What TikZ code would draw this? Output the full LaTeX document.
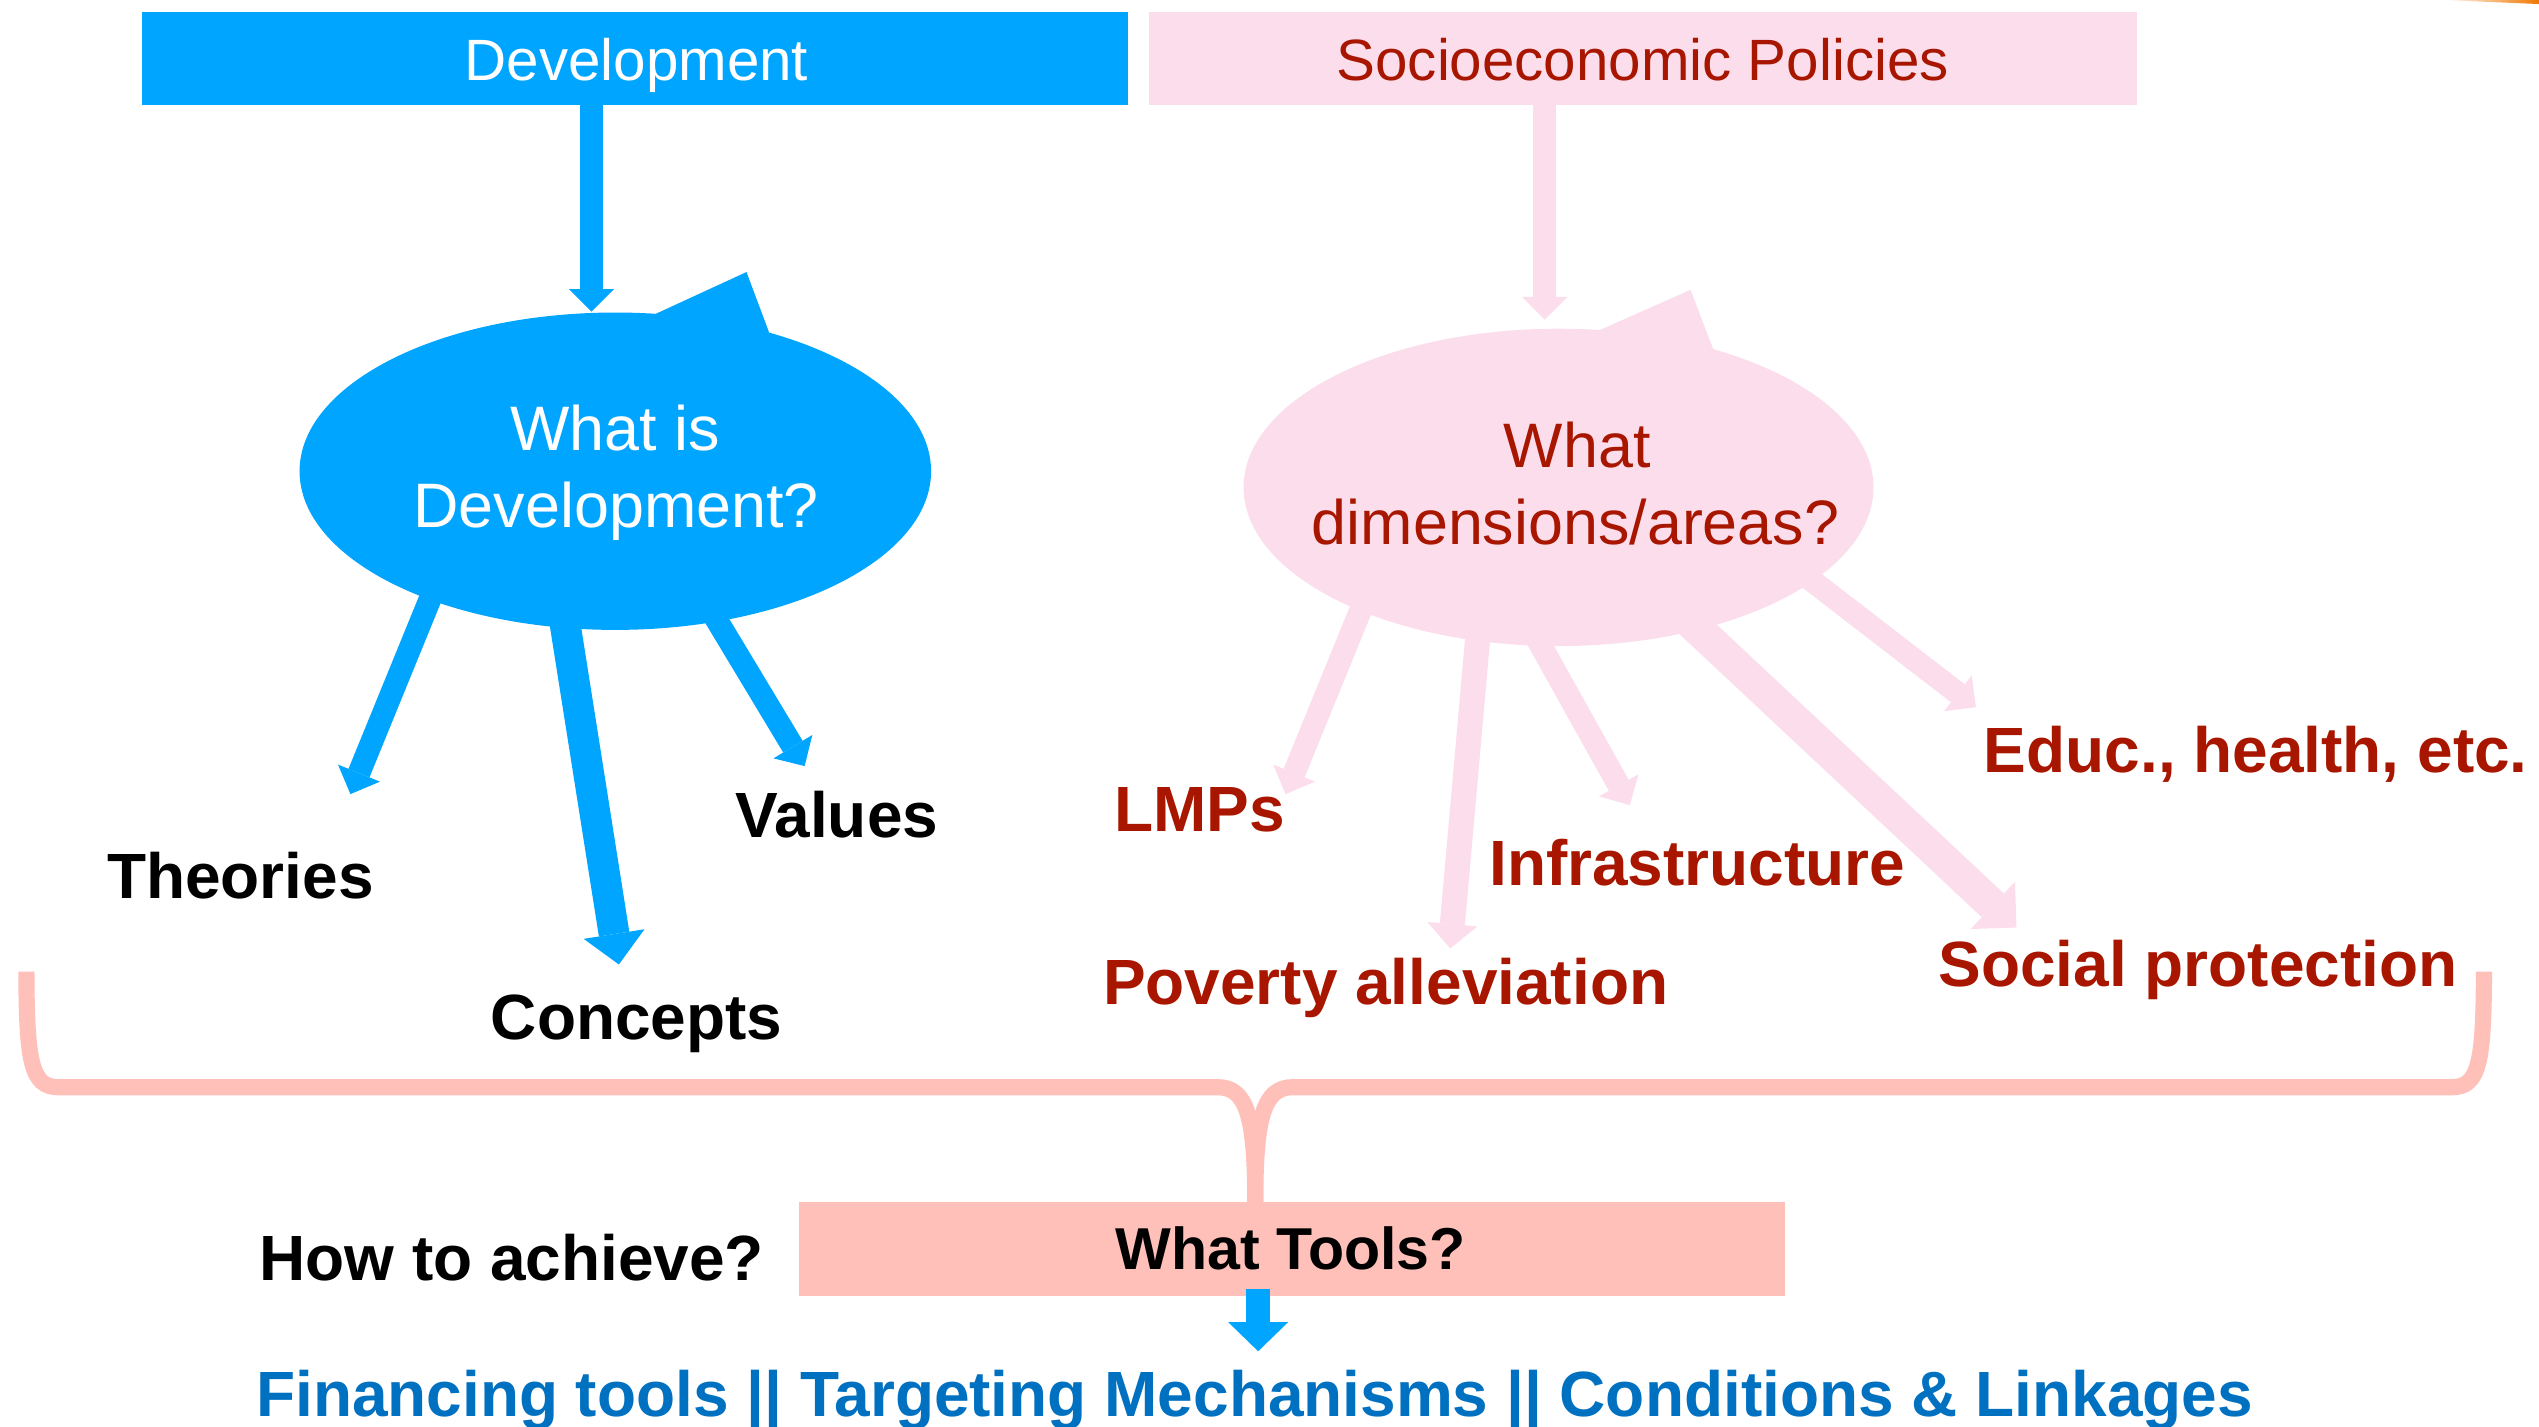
\documentclass[tikz,border=0pt]{standalone}
\usepackage{fontspec}
\setmainfont{Liberation Sans}
\usetikzlibrary{arrows.meta,shapes.geometric}
\definecolor{devblue}{RGB}{0,165,255}
\definecolor{polpink}{RGB}{251,221,235}
\definecolor{txtred}{RGB}{168,22,0}
\definecolor{salmon}{RGB}{255,192,185}
\definecolor{linkblue}{RGB}{0,112,192}
\definecolor{orng}{RGB}{240,120,0}
\begin{document}
\begin{tikzpicture}[x=1pt,y=-1pt,
  reg/.style={font=\fontsize{36}{43}\selectfont, inner sep=0pt, anchor=base},
  bubt/.style={font=\fontsize{38.8}{47}\selectfont, inner sep=0pt, anchor=base},
  lbl/.style={font=\fontsize{39.5}{47}\selectfont\bfseries, inner sep=0pt, anchor=base west},
  boxn/.style={inner sep=0pt, anchor=north west},
  bub/.style={ellipse, inner sep=0pt, minimum height=196pt},
  ar/.style={line width=14pt, -{Triangle[width=28pt,length=14pt,line width=0pt]}},
  arm/.style={line width=15.5pt, -{Triangle[width=31pt,length=15pt,line width=0pt]}},
  arw/.style={line width=19pt, -{Triangle[width=38pt,length=19pt,line width=0pt]}},
  arx/.style={line width=20pt, -{Triangle[width=40pt,length=20pt,line width=0pt]}},
  brace/.style={draw=salmon, line width=10pt, line join=round}
]
\useasboundingbox (0,0) rectangle (1568,881);

% orange corner accent
\shade[left color=white, right color=orng] (1508,0) -- (1568,0) -- (1568,2.5) -- cycle;

% top boxes
\node[boxn, fill=devblue, minimum width=609.2pt, minimum height=57.4pt] (dev) at (87.5,7.4) {};
\node[boxn, fill=polpink, minimum width=610pt, minimum height=57.4pt] (pol) at (709.5,7.4) {};
\node[reg, text=white] (devt) at (393,49.6) {Development};
\node[reg, text=txtred] (polt) at (1014.5,49.6) {Socioeconomic Policies};

% coordinates
\coordinate (devout) at (365.3,60);
\coordinate (devin) at (365.3,192.5);
\coordinate (polout) at (954,60);
\coordinate (polin) at (954,197.4);

\coordinate (sTh) at (276.8,342.5);  \coordinate (tTh) at (216.4,490.4);
\coordinate (sCo) at (344.7,358.3);  \coordinate (tCo) at (382.2,595.6);
\coordinate (sVa) at (427.8,358.3);  \coordinate (tVa) at (496.9,473.1);

\coordinate (sLM) at (851.2,350);    \coordinate (tLM) at (793.9,490.4);
\coordinate (sPo) at (915,366.6);    \coordinate (tPo) at (895.6,585.7);
\coordinate (sIn) at (937.3,373.2);  \coordinate (tIn) at (1006.5,497.2);
\coordinate (sEd) at (1096.4,341.2); \coordinate (tEd) at (1220.2,436.7);
\coordinate (sSo) at (1033.9,374.8); \coordinate (tSo) at (1245.3,572.8);

% arrows from boxes to bubbles
\draw[ar, devblue] (devout) -- (devin);
\draw[ar, polpink] (polout) -- (polin);

% arrows out of bubbles
\draw[ar, devblue] (sTh) -- (tTh);
\draw[arw, devblue] (sCo) -- (tCo);
\draw[ar, devblue] (sVa) -- (tVa);

\draw[ar, polpink] (sLM) -- (tLM);
\draw[arm, polpink] (sPo) -- (tPo);
\draw[ar, polpink] (sIn) -- (tIn);
\draw[ar, polpink] (sEd) -- (tEd);
\draw[arx, polpink] (sSo) -- (tSo);

% bubbles
\node[bub, fill=devblue, minimum width=390pt] (wid) at (380,291) {};
\fill[devblue] (405,193.8) -- (461,168) -- (475,205.4) -- (440,215) -- cycle;
\node[bub, fill=polpink, minimum width=389pt] (wda) at (962.5,301) {};
\fill[polpink] (988,203.8) -- (1044,179) -- (1058,215.6) -- (1020,225) -- cycle;

\node[bubt, text=white] (wid1) at (380,278.5) {What is};
\node[bubt, text=white] (wid2) at (380.5,326) {Development?};
\node[bubt, text=txtred] (wda1) at (974,289) {What};
\node[bubt, text=txtred] (wda2) at (973,336.4) {dimensions/areas?};

% labels
\node[lbl] (theo) at (66,555) {Theories};
\node[lbl] (conc) at (303,642) {Concepts};
\node[lbl] (valu) at (454,517) {Values};
\node[lbl, text=txtred] (lmps) at (688,513.7) {LMPs};
\node[lbl, text=txtred] (infr) at (919.5,547) {Infrastructure};
\node[lbl, text=txtred] (pove) at (681,620.5) {Poverty alleviation};
\node[lbl, text=txtred] (educ) at (1225,477) {Educ., health, etc.};
\node[lbl, text=txtred] (soci) at (1197,609) {Social protection};

% brace
\coordinate (bl) at (16.3,600);
\coordinate (br) at (1534,600);
\coordinate (btip) at (775.2,742.3);
\draw[brace] (bl) .. controls (16.5,655) and (19,671.4) .. (36,671.4) -- (752,671.4)
   .. controls (770,671.4) and (775.2,690) .. (btip);
\draw[brace] (br) .. controls (1533.8,655) and (1531.3,671.4) .. (1514.3,671.4) -- (798.4,671.4)
   .. controls (780.4,671.4) and (775.2,690) .. (btip);

% tools box
\node[boxn, fill=salmon, minimum width=609pt, minimum height=57.6pt] (tools) at (493,742.3) {};
\node[reg, font=\fontsize{36.5}{43}\selectfont\bfseries] (toolst) at (797,784) {What Tools?};
\node[lbl] (how) at (160,790.6) {How to achieve?};

\coordinate (tout) at (777,796);
\coordinate (tin) at (777,834.5);
\draw[line width=15pt, devblue, -{Triangle[width=37pt,length=18pt,line width=0pt]}] (tout) -- (tin);

\node[lbl, text=linkblue] (fin) at (158,875) {Financing tools || Targeting Mechanisms || Conditions \& Linkages};
\end{tikzpicture}
\end{document}
